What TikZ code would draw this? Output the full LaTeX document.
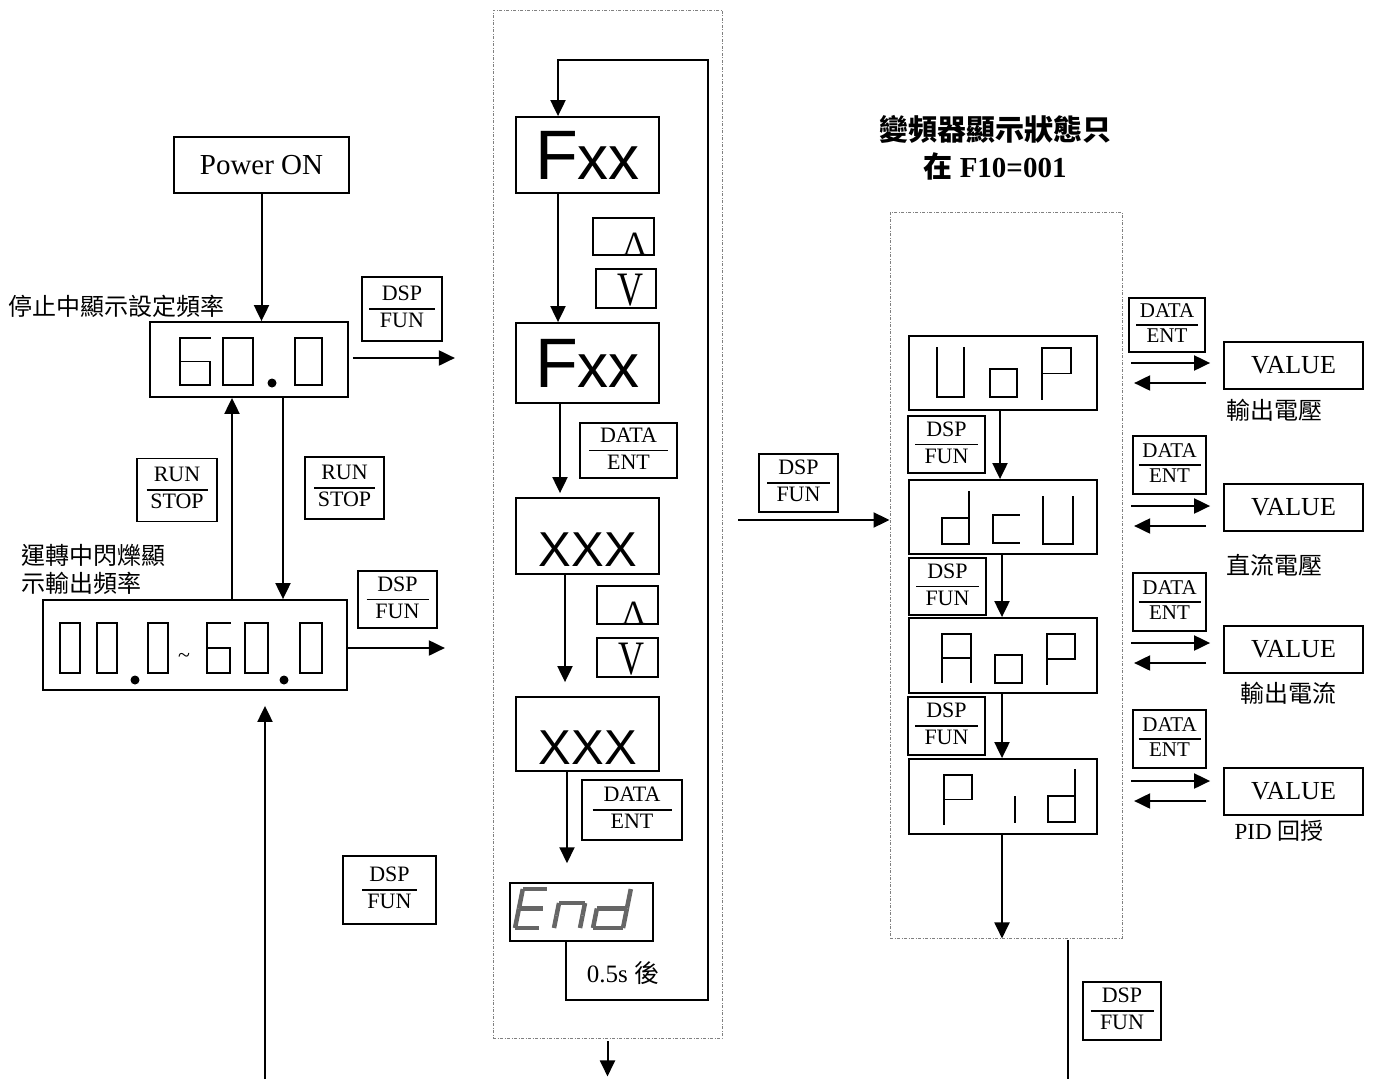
\documentclass[tikz,border=0pt]{standalone}
\usepackage{fontspec}
\usepackage{graphicx}
\usepackage{array}
\setmainfont{Liberation Serif}
\newfontfamily\cjk{Noto Sans CJK TC}
\newfontfamily\arial{Liberation Sans}
\usetikzlibrary{arrows.meta,calc}

% key caps drawn as a fraction (upper label, rule, lower label)
\newcommand{\keyfrac}[3][64pt]{%
  {\setlength{\arrayrulewidth}{1.4pt}%
   \begin{tabular}{@{}>{\centering\arraybackslash}p{#1}@{}}#2\\\hline #3\end{tabular}}}

% seven segment glyphs, unit box (0,0)--(1,1)
\pgfkeys{/seg/.cd,
  a/.code={\draw[segline] (0,1) -- (1,1);},
  b/.code={\draw[segline] (1,1) -- (1,.5);},
  c/.code={\draw[segline] (1,.5) -- (1,0);},
  d/.code={\draw[segline] (0,0) -- (1,0);},
  e/.code={\draw[segline] (0,0) -- (0,.5);},
  f/.code={\draw[segline] (0,.5) -- (0,1);},
  g/.code={\draw[segline] (0,.5) -- (1,.5);}}
\newcommand{\sevenseg}[6][]{% left, top, width, height, segments
  \begin{scope}[shift={(#2,-#3-#5)},x=#4pt,y=#5pt,#1]
    \pgfkeys{/seg/.cd,#6}
  \end{scope}}

\begin{document}
\begin{tikzpicture}[x=1pt,y=1pt,
    box/.style={draw,line width=1.8pt,inner sep=0pt},
    key/.style={draw,line width=1.5pt,inner sep=0pt,font=\fontsize{22}{26}\selectfont},
    smallkey/.style={key,font=\fontsize{21}{24}\selectfont},
    arr/.style={line width=2pt,-{Triangle[length=16pt,width=15pt]}},
    wire/.style={line width=2pt},
    frame/.style={draw,gray,line width=0.9pt,dash pattern=on 3pt off 1.5pt on 1pt off 1.5pt,inner sep=0pt},
    segline/.style={line width=1.7pt,line cap=rect},
    endseg/.style={segline/.style={line width=4.5pt,draw=black!60,line cap=butt},xslant=0.2},
    note/.style={inner sep=0pt,font=\cjk\fontsize{24}{28}\selectfont}]
    \useasboundingbox (0,0) rectangle (1373,-1079);

    % Left column: power on, stop and run displays
    \node[box,minimum width=175pt,minimum height=56pt,font=\fontsize{29}{32}\selectfont] (pwr) at (261.5,-165) {Power ON};
    \node[box,minimum width=198pt,minimum height=75pt] (stop) at (249,-359.5) {};
    \node[box,minimum width=304pt,minimum height=90pt] (run) at (195,-645) {};
    \node[note,anchor=west] (stoptxt) at (8,-306) {停止中顯示設定頻率};
    \node[note,anchor=west,align=left] (runtxt) at (21,-569) {運轉中閃爍顯\\示輸出頻率};

    \node[key,minimum width=80pt,minimum height=64pt] (kdspA) at (402,-309) {\keyfrac[66pt]{DSP}{FUN}};
    \node[key,minimum width=80pt,minimum height=63pt] (krunA) at (177,-490) {\keyfrac[61pt]{RUN}{STOP}};
    \node[key,minimum width=79pt,minimum height=62pt] (krunB) at (344.5,-488) {\keyfrac[61pt]{RUN}{STOP}};
    \node[key,minimum width=79pt,minimum height=57pt] (kdspB) at (397.5,-599.5) {\keyfrac[62pt]{DSP}{FUN}};
    \node[key,minimum width=93pt,minimum height=68pt] (kdspC) at (389.5,-890) {\keyfrac[55pt]{DSP}{FUN}};

    % 60.0
    \sevenseg{180}{338}{30}{47}{a,f,e,d,c,g}
    \sevenseg{223}{338}{30}{47}{a,b,c,d,e,f}
    \sevenseg{295}{338}{27}{47}{a,b,c,d,e,f}
    \fill (272,-383) circle (4.5);
    % 00.0~60.0
    \foreach \x/\w in {60/20,97/20,148/20,245/23,300/22}
        {\sevenseg{\x}{623}{\w}{50}{a,b,c,d,e,f}}
    \sevenseg{207}{623}{23}{50}{a,f,e,d,c,g}
    \fill (135,-680) circle (4.5) (284,-680) circle (4.5);
    \node[inner sep=0pt] (tilde) at (184,-658) {\fontsize{22}{22}\selectfont\textasciitilde};

    \draw[arr] (pwr.south) -- (pwr.south |- stop.north);
    \draw[arr] ([xshift=4pt,yshift=1.5pt]stop.east) -- ++(102,0);
    \draw[arr] ([xshift=37pt]run.north) -- ([xshift=37pt]run.north |- stop.south);
    \draw[arr] ([xshift=34pt]stop.south) -- ([xshift=34pt]stop.south |- run.north);
    \draw[arr] ([yshift=-3pt]run.east) -- ++(97,0);
    \coordinate (feedin) at (265,-1079);
    \draw[arr] (feedin) -- ([xshift=70pt,yshift=-15pt]run.south);

    % Middle column: parameter setting
    \node[frame,minimum width=229pt,minimum height=1028pt] (frameM) at (607.5,-524) {};
    \node[box,minimum width=143pt,minimum height=76pt,font=\arial] (fxxA) at (587.5,-155)
        {\fontsize{70}{70}\selectfont F\fontsize{62}{62}\selectfont xx};
    \node[box,minimum width=143pt,minimum height=80pt,font=\arial] (fxxB) at (587.5,-363)
        {\fontsize{70}{70}\selectfont F\fontsize{62}{62}\selectfont xx};
    \node[box,minimum width=143pt,minimum height=76pt] (xxxA) at (587.5,-536) {};
    \node[box,minimum width=143pt,minimum height=74pt] (xxxB) at (587.5,-734) {};
    \node[font=\arial\fontsize{49}{49}\selectfont,inner sep=0pt] (xxxAt) at (588,-550) {XXX};
    \node[font=\arial\fontsize{49}{49}\selectfont,inner sep=0pt] (xxxBt) at (588,-748) {XXX};
    \node[box,line width=1.5pt,minimum width=143pt,minimum height=58pt] (endb) at (581.5,-912) {};
    \sevenseg[endseg]{515}{889}{24}{39}{a,f,e,d,g}
    \sevenseg[endseg]{554}{903}{26}{25}{a,b,c,e,f}
    \sevenseg[endseg]{593}{889}{30}{39}{b,c,d,e,g}
    \node[inner sep=0pt,font=\fontsize{25}{28}\selectfont] (delay) at (623,-973) {0.5s {\cjk 後}};

    \node[key,minimum width=61pt,minimum height=37pt] (kupA) at (623.5,-236.5) {};
    \node[key,minimum width=60pt,minimum height=39pt] (kdnA) at (626,-288.5) {};
    \node[key,minimum width=61pt,minimum height=38pt] (kupB) at (627.5,-605) {};
    \node[key,minimum width=61pt,minimum height=39pt] (kdnB) at (627.5,-657.5) {};
    \node[anchor=base,inner sep=0pt] (upAg) at (635,-255) {\fontsize{34}{34}\selectfont Λ};
    \node[inner sep=0pt] (dnAg) at (630,-290) {\fontsize{48}{48}\selectfont\scalebox{0.75}[1]{V}};
    \node[anchor=base,inner sep=0pt] (upBg) at (634,-624) {\fontsize{34}{34}\selectfont Λ};
    \node[inner sep=0pt] (dnBg) at (631,-659) {\fontsize{48}{48}\selectfont\scalebox{0.75}[1]{V}};
    \node[key,minimum width=97pt,minimum height=55pt] (kdataM1) at (628.5,-450.5) {\keyfrac[79pt]{DATA}{ENT}};
    \node[key,minimum width=100pt,minimum height=60pt] (kdataM2) at (632,-810) {\keyfrac[79pt]{DATA}{ENT}};

    \coordinate (loopbr) at (708,-1000);
    \coordinate (looptl) at (558,-60);
    \draw[arr] ([xshift=-15.5pt]endb.south) |- (loopbr) |- (looptl) -- (looptl |- fxxA.north);
    \draw[arr] ([xshift=-29.5pt]fxxA.south) -- ([xshift=-29.5pt]fxxB.north);
    \draw[arr] ([xshift=-27.5pt]fxxB.south) -- ([xshift=-27.5pt,yshift=4pt]xxxA.north);
    \draw[arr] ([xshift=-22.5pt]xxxA.south) -- ([xshift=-22.5pt,yshift=14pt]xxxB.north);
    \draw[arr] ([xshift=-20.5pt]xxxB.south) -- ([xshift=-14.5pt,yshift=19pt]endb.north);
    \draw[arr] ([yshift=-3pt]frameM.south) -- ++(0,-35);

    % DSP/FUN into the monitor group
    \node[key,minimum width=79pt,minimum height=58pt] (kdspM) at (798.5,-483) {\keyfrac[63pt]{DSP}{FUN}};
    \coordinate (dspin) at (738,-520);

    % Right column: monitor displays (only with F10=001)
    \node[font=\bfseries\fontsize{29}{37}\selectfont,align=center,inner sep=0pt] (title) at (995,-148)
        {{\cjk 變頻器顯示狀態只}\\{\cjk 在} F10=001};
    \node[frame,minimum width=232pt,minimum height=726pt] (frameR) at (1006,-575) {};
    \draw[arr] (dspin) -- (dspin -| frameR.west);

    \node[box,minimum width=188pt,minimum height=74pt] (uop) at (1003,-373) {};
    \node[box,minimum width=188pt,minimum height=74pt] (dcu) at (1003,-517) {};
    \node[box,minimum width=188pt,minimum height=75pt] (aop) at (1003,-655.5) {};
    \node[box,minimum width=188pt,minimum height=75pt] (pid) at (1003,-796.5) {};
    % UoP
    \sevenseg{937}{348}{27}{49}{f,e,d,c,b}
    \sevenseg{990}{369}{27}{28}{a,b,c,d,e,f}
    \sevenseg{1042}{348}{29}{51}{a,b,g,f,e}
    % dcU
    \sevenseg{942}{492}{27}{52}{b,c,d,e,g}
    \sevenseg{993}{515}{26}{28}{a,f,e,d}
    \sevenseg{1043}{497}{30}{47}{f,e,d,c,b}
    % AoP
    \sevenseg{942}{634}{29}{48}{a,b,c,e,f,g}
    \sevenseg{995}{655}{27}{28}{a,b,c,d,e,f}
    \sevenseg{1047}{634}{28}{50}{a,b,g,f,e}
    % Pid
    \sevenseg{944}{775}{28}{49}{a,b,g,f,e}
    \sevenseg{1015}{797}{0}{25}{f,e}
    \sevenseg{1048}{770}{27}{52}{b,c,d,e,g}

    \node[key,minimum width=77pt,minimum height=57pt] (kdspR1) at (946.5,-444.5) {\keyfrac[63pt]{DSP}{FUN}};
    \node[key,minimum width=77pt,minimum height=57pt] (kdspR2) at (947.5,-586.5) {\keyfrac[63pt]{DSP}{FUN}};
    \node[key,minimum width=77pt,minimum height=58pt] (kdspR3) at (946.5,-726) {\keyfrac[63pt]{DSP}{FUN}};
    \draw[arr] ([xshift=-3pt]uop.south) -- ([xshift=-3pt]dcu.north);
    \draw[arr] ([xshift=-1pt]dcu.south) -- ([xshift=-1pt]aop.north);
    \draw[arr] ([xshift=-1pt]aop.south) -- ([xshift=-1pt]pid.north);
    \draw[arr] ([xshift=-1pt]pid.south) -- ([xshift=-1pt]pid.south |- frameR.south);
    \draw[wire] ([xshift=62pt,yshift=-2pt]frameR.south) -- ++(0,-139);
    \node[key,minimum width=78pt,minimum height=58pt] (kdspOut) at (1122,-1011) {\keyfrac[63pt]{DSP}{FUN}};

    % values
    \node[smallkey,minimum width=76pt,minimum height=54pt] (kdataA) at (1167,-325) {\keyfrac[62pt]{DATA}{ENT}};
    \node[smallkey,minimum width=73pt,minimum height=58pt] (kdataB) at (1169.5,-465) {\keyfrac[62pt]{DATA}{ENT}};
    \node[smallkey,minimum width=73pt,minimum height=58pt] (kdataC) at (1169.5,-602) {\keyfrac[62pt]{DATA}{ENT}};
    \node[smallkey,minimum width=73pt,minimum height=58pt] (kdataD) at (1169.5,-739) {\keyfrac[62pt]{DATA}{ENT}};
    \foreach \v/\ya in {valA/365.5,valB/507.5,valC/649.5,valD/791.5}
        {\node[box,minimum width=139pt,minimum height=47pt,font=\fontsize{26}{30}\selectfont] (\v) at (1293.5,-\ya) {VALUE};}
    \foreach \v/\ya/\yb in {valA/363/383,valB/506/526,valC/643/663,valD/781/801}{
        \draw[arr] ($(\v.west |- 0,-\ya)+(-92,0)$) -- ($(\v.west |- 0,-\ya)+(-13,0)$);
        \draw[arr] ($(\v.west |- 0,-\yb)+(-17,0)$) -- ($(\v.west |- 0,-\yb)+(-89,0)$);
    }
    \node[note] (vlabA) at (1274,-410) {輸出電壓};
    \node[note] (vlabB) at (1274,-565) {直流電壓};
    \node[note] (vlabC) at (1288,-693) {輸出電流};
    \node[note,font=\fontsize{23}{26}\selectfont] (vlabD) at (1279,-831) {PID {\cjk 回授}};
\end{tikzpicture}
\end{document}
